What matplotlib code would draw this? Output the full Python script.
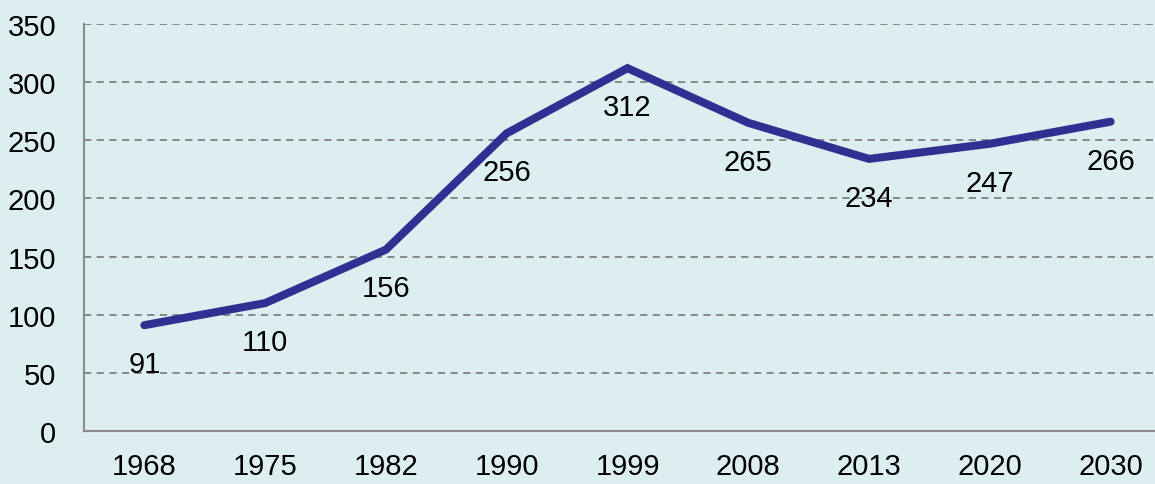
import matplotlib.pyplot as plt
from matplotlib import font_manager

years = ['1968', '1975', '1982', '1990', '1999', '2008', '2013', '2020', '2030']
values = [91, 110, 156, 256, 312, 265, 234, 247, 266]
yticks = [0, 50, 100, 150, 200, 250, 300, 350]

names = {f.name for f in font_manager.fontManager.ttflist}
fam = 'Liberation Sans Narrow' if 'Liberation Sans Narrow' in names else 'Liberation Sans'
plt.rcParams['font.family'] = [fam, 'DejaVu Sans']
fs = 21 if fam == 'Liberation Sans' else 23

bg = '#DDEEF0'
fig = plt.figure(figsize=(11.55, 4.85), dpi=100, facecolor=bg)
ax = fig.add_axes([84 / 1155, 53 / 485, 1087 / 1155, 407 / 485], facecolor=bg)

x = range(len(years))
ax.plot(x, values, color='#2E3192', lw=5.8, solid_capstyle='round', solid_joinstyle='miter', zorder=3)
for i, v in zip(x, values):
    ax.annotate(str(v), (i, v), xytext=(0, -28), textcoords='offset points',
                ha='center', va='center', fontsize=fs, color='black', zorder=4)

ax.set_xlim(-0.5, len(years) - 0.5)
ax.set_ylim(0, 350)
ax.set_yticks(yticks)
ax.set_xticks(list(x))
ax.set_xticklabels(years)
ax.tick_params(axis='both', length=0, labelsize=fs, colors='black')
ax.tick_params(axis='x', pad=15)
ax.tick_params(axis='y', pad=20)

ax.grid(axis='y', color='#808080', ls=(0, (4, 3)), lw=1.3)
ax.set_axisbelow(True)
for s in ['top', 'right']:
    ax.spines[s].set_visible(False)
for s in ['left', 'bottom']:
    ax.spines[s].set_color('#8C8C8C')
    ax.spines[s].set_linewidth(1.5)

fig.savefig('out.png', dpi=100, facecolor=bg)
